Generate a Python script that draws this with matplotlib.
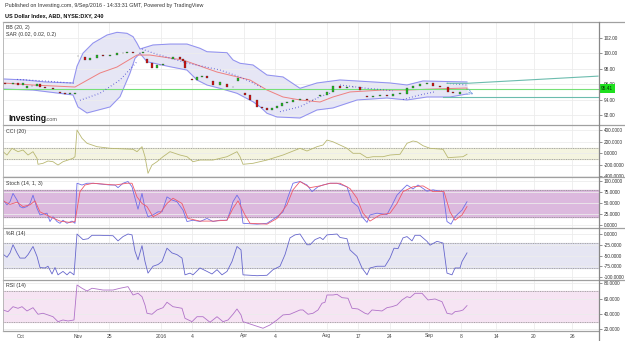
import numpy as np
import matplotlib.pyplot as plt
from matplotlib.lines import Line2D
from matplotlib.ticker import FormatStrFormatter

plt.rcParams['font.family'] = ['Liberation Sans', 'DejaVu Sans']

# ---- data (x = bar position on the compressed 4h time axis) ----
tick_pos = [21, 78, 109, 161, 192, 244, 275, 327, 358, 390, 429, 461, 496, 534, 572]
tick_labels = ['Oct', 'Nov', '25', '2016', '4', 'Apr', '4', 'Aug', '17', '24', 'Sep', '8', '14', '20', '26']

candle_x = [5, 13, 18, 23, 27, 32, 37, 40, 45, 53, 60, 65, 70, 75,
            78, 85, 90, 97, 103, 110, 117, 123, 127, 133, 140, 143, 147, 152, 157, 160, 163,
            173, 180, 183, 185, 192, 197, 202, 207, 213, 220, 227, 233, 238,
            245, 250, 257, 262, 267, 272, 277, 282, 287, 293, 300, 307, 313,
            320, 327, 333, 340, 347, 353, 360, 367, 373, 380, 387, 393, 400,
            407, 413, 420, 427, 433, 440, 448, 453, 460, 467]
candle_open = [96.10, 96.01, 96.18, 95.88, 95.45, 95.70, 95.75, 96.01, 95.66, 95.45, 95.00, 94.81, 94.72, 94.72,
               99.60, 99.50, 99.12, 99.40, 99.76, 99.63, 99.76, 99.98, 100.06, 100.19, 99.98, 100.06, 99.30, 98.69, 98.04, 98.47, 98.47,
               99.30, 99.46, 99.21, 98.99, 96.70, 96.53, 96.95, 97.05, 96.40, 95.88, 96.00, 95.58, 96.40,
               94.80, 94.59, 93.94, 93.07, 92.87, 92.65, 92.87, 93.16, 93.51, 93.72, 93.94, 94.03, 93.94,
               94.40, 94.59, 95.01, 95.75, 95.45, 95.58, 95.66, 94.50, 94.37, 94.46, 94.59, 94.50, 94.72,
               94.70, 95.45, 95.75, 96.01, 96.10, 95.75, 95.58, 94.99, 94.70, 95.30]
candle_close = [96.01, 96.18, 95.88, 96.10, 95.70, 95.75, 96.01, 95.66, 95.45, 95.32, 94.81, 94.72, 94.72, 94.81,
                99.67, 99.12, 99.34, 99.76, 99.63, 99.76, 99.98, 100.06, 100.19, 99.98, 100.06, 100.19, 98.69, 98.04, 98.47, 98.47, 98.60,
                99.46, 99.21, 98.99, 98.04, 96.53, 96.95, 97.05, 96.75, 95.88, 96.31, 95.58, 95.58, 96.75,
                94.59, 93.94, 93.07, 92.87, 92.65, 92.87, 93.16, 93.51, 93.72, 93.94, 94.03, 93.94, 93.94,
                94.59, 95.01, 95.75, 95.45, 95.58, 95.66, 95.23, 94.37, 94.46, 94.59, 94.50, 94.72, 94.81,
                95.45, 95.75, 96.01, 96.10, 95.75, 95.58, 94.99, 94.88, 94.99, 95.41]
last_price = 95.41

bb_up_x = [3, 25, 45, 73, 77, 83, 93, 107, 117, 127, 133, 137, 140, 153, 170, 187, 200, 207, 227, 233,
           240, 253, 267, 283, 300, 317, 340, 390, 407, 423, 467]
bb_up = [96.66, 96.53, 96.27, 96.14, 98.30, 100.00, 101.30, 102.35, 102.70, 102.57, 102.14, 101.28, 100.54,
         101.06, 101.18, 101.18, 100.63, 100.19, 100.06, 99.12, 98.69, 98.47, 97.17, 96.92, 95.45, 96.14,
         96.53, 96.14, 95.88, 96.40, 96.27]
bb_lo_x = [3, 33, 73, 78, 87, 110, 120, 130, 135, 140, 147, 170, 187, 197, 207, 220, 237, 253, 260, 267,
           277, 300, 317, 333, 357, 387, 407, 427, 450, 467]
bb_lo = [95.36, 95.23, 94.59, 93.04, 92.26, 93.04, 94.37, 97.43, 99.34, 99.98, 98.90, 98.25, 97.82, 96.53,
         95.88, 95.45, 94.81, 93.72, 93.07, 92.22, 91.74, 91.61, 92.65, 92.91, 93.94, 94.20, 93.94, 94.33,
         94.33, 94.72]
bb_mid_x = [3, 33, 75, 100, 117, 137, 150, 183, 217, 250, 267, 283, 300, 320, 333, 350, 383, 407, 433, 467]
bb_mid = [96.14, 95.88, 95.62, 97.43, 98.21, 99.76, 99.76, 99.12, 97.56, 96.53, 95.23, 94.33, 93.94, 93.68,
          94.33, 94.98, 95.23, 95.23, 95.36, 95.49]

sar_segments = [
    ([17, 45, 75], [96.60, 96.40, 96.10]),
    ([80, 100, 120, 137], [93.90, 94.81, 96.53, 98.90]),
    ([142, 153, 170, 187, 220, 240, 253, 263], [100.54, 100.02, 99.37, 98.73, 97.82, 96.92, 96.14, 95.49]),
    ([280, 300, 320, 330], [92.43, 93.07, 94.37, 94.81]),
    ([340, 367, 393], [95.88, 95.45, 95.14]),
    ([403, 420, 435], [94.00, 94.60, 95.00]),
    ([447, 467], [96.10, 95.88]),
]
proj_up_x = [447, 467, 598]
proj_up = [96.10, 96.10, 97.03]
proj_lo_x = [443, 598]
proj_lo = [94.33, 94.33]

cci_x = [3, 7, 12, 18, 23, 28, 33, 37, 38, 43, 48, 53, 58, 63, 68, 73, 75, 77, 82, 87, 97, 110, 133, 137,
         142, 145, 148, 152, 157, 163, 170, 180, 187, 193, 200, 213, 227, 237, 240, 243, 253, 267, 283,
         300, 307, 317, 323, 327, 333, 340, 347, 353, 360, 367, 373, 383, 390, 400, 407, 413, 417, 423,
         430, 443, 448, 453, 463, 467]
cci = [28, -30, 87, 28, 57, -30, 28, -87, -191, -174, -134, -146, -204, -146, -117, -87, -59, 405, 261, 174,
       115, 87, 70, 28, 115, -59, -348, -204, -146, -59, 28, -30, -59, -146, -117, -117, -59, 28, -59, -191,
       -174, -117, -30, 87, 40, 115, 144, 230, 200, 144, 87, 0, 0, -77, -59, -59, -30, -17, 174, 214, 200,
       132, 87, 70, -77, -70, -59, -17]

stoch_k_x = [3, 7, 10, 13, 17, 20, 23, 27, 30, 33, 37, 40, 47, 50, 53, 57, 60, 63, 67, 72, 75, 77, 82, 87,
             93, 110, 115, 118, 123, 128, 132, 135, 138, 142, 145, 148, 153, 158, 162, 167, 172, 177, 183,
             187, 193, 200, 207, 213, 220, 227, 230, 233, 237, 240, 243, 257, 267, 277, 283, 288, 293,
             300, 307, 312, 318, 323, 330, 337, 347, 352, 358, 362, 367, 370, 377, 387, 392, 397, 402,
             407, 413, 418, 427, 433, 440, 443, 447, 451, 455, 462, 467]
stoch_k = [58, 47, 54, 73, 58, 43, 40, 43, 50, 69, 39, 24, 28, 9, 20, 9, 5, 12, 5, 10, 5, 96, 92, 96,
           96, 92, 92, 86, 96, 100, 88, 62, 37, 73, 39, 20, 24, 31, 31, 65, 58, 54, 35,
           9, 12, 9, 16, 9, 12, 12, 31, 54, 69, 58, 5, 3, 5, 20, 31, 65, 96,
           100, 92, 77, 88, 92, 96, 96, 88, 54, 43, 20, 7, 24, 28, 25, 46, 69, 81,
           92, 83, 92, 78, 81, 78, 77, 9, 3, 20, 35, 54]
stoch_d_x = [3, 10, 17, 23, 30, 35, 40, 50, 60, 70, 75, 80, 85, 93, 115, 127, 132, 137, 142, 147, 153,
             160, 167, 173, 182, 188, 200, 213, 227, 233, 238, 245, 250, 267, 277, 287, 293,
             300, 310, 320, 330, 340, 350, 357, 363, 370, 380, 390, 397, 403, 413, 423, 433, 444,
             450, 455, 462, 467]
stoch_d = [56, 48, 53, 43, 47, 56, 31, 20, 10, 7, 9, 77, 92, 96, 92, 96, 96, 65, 50, 43, 20,
           28, 50, 62, 50, 16, 10, 10, 12, 39, 56, 24, 5, 3, 16, 47, 81,
           100, 86, 90, 96, 96, 84, 62, 28, 10, 24, 28, 50, 77, 88, 90, 77, 77,
           31, 12, 24, 43]

wr_x = [3, 7, 10, 13, 17, 20, 25, 28, 33, 37, 40, 45, 48, 52, 55, 58, 63, 67, 70, 74, 77, 83, 88, 92,
        100, 113, 118, 123, 128, 132, 135, 138, 142, 145, 148, 153, 158, 162, 167, 172, 177, 182, 185,
        190, 193, 200, 207, 212, 217, 222, 227, 232, 237, 241, 243, 257, 267, 273, 280, 285, 290, 295,
        300, 307, 310, 315, 320, 323, 327, 337, 340, 347, 350, 357, 362, 367, 370, 377, 385, 390, 394,
        398, 403, 407, 412, 415, 420, 427, 430, 437, 443, 447, 452, 455, 460, 462, 467]
wr = [-47, -54, -44, -25, -44, -56, -56, -48, -29, -52, -78, -79, -75, -93, -78, -95, -87, -95, -88, -95,
      0, -13, -11, -3, -3, -4, -16, -6, 0, -2, -40, -60, -27, -64, -91, -75, -71, -64, -33, -44, -48,
      -56, -95, -91, -95, -79, -87, -93, -83, -95, -87, -64, -29, -37, -95, -97, -96, -83, -75, -48,
      -9, -2, 0, -25, -25, -13, -8, -13, -2, 0, -8, -11, -37, -52, -79, -95, -79, -75, -75, -56, -33,
      -34, -9, -6, -16, -3, -3, -17, -26, -17, -21, -91, -95, -79, -79, -64, -44]

rsi_x = [3, 8, 13, 18, 22, 27, 33, 38, 43, 48, 53, 58, 63, 68, 74, 77, 82, 87, 92, 97, 103, 113, 120,
         128, 133, 138, 142, 145, 147, 152, 157, 163, 167, 173, 182, 185, 192, 197, 203, 210, 217,
         223, 228, 233, 237, 241, 243, 253, 263, 270, 277, 283, 290, 300, 303, 308, 313, 318, 322,
         325, 327, 333, 337, 342, 348, 352, 358, 365, 368, 372, 382, 387, 392, 397, 402, 407, 410,
         415, 422, 428, 435, 442, 447, 452, 455, 460, 463, 467]
rsi = [45.1, 42.9, 49.4, 47.3, 49.4, 43.8, 48.1, 39.5, 40.8, 38.6, 36.3, 29.8, 32.0, 30.7, 32.0, 77.8,
       73.5, 69.9, 73.5, 72.5, 71.2, 71.2, 73.5, 75.6, 64.7, 66.9, 62.5, 51.6, 40.8, 39.5, 45.1, 48.1,
       55.2, 49.4, 47.3, 34.2, 29.8, 36.3, 36.3, 29.0, 36.3, 29.8, 32.0, 39.5, 46.4, 38.6, 29.8, 25.5,
       21.2, 25.5, 32.0, 38.6, 39.5, 45.1, 45.1, 39.5, 40.8, 45.1, 53.9, 55.2, 64.7, 64.7, 65.6, 61.2,
       60.4, 47.3, 46.4, 40.8, 39.5, 45.1, 43.8, 48.1, 49.4, 51.6, 58.2, 62.5, 61.2, 66.9, 66.9, 58.2,
       59.5, 55.9, 40.8, 39.5, 42.9, 43.8, 45.1, 50.8]

# ---- layout ----
W, H = 625, 341
fig = plt.figure(figsize=(6.25, 3.41), dpi=100)
fig.patch.set_facecolor('white')
x_left, x_right = 3, 599
panels = [(22, 125), (125, 177), (177, 228), (228, 280), (280, 331)]
axes = []
for top, bot in panels:
    ax = fig.add_axes([x_left / W, 1 - bot / H, (x_right - x_left) / W, (bot - top) / H])
    ax.set_xlim(x_left, x_right)
    for s in ax.spines.values():
        s.set_visible(False)
    ax.yaxis.tick_right()
    ax.tick_params(axis='y', length=2, width=0.5, labelsize=3.4, pad=1.5, colors='#666', labelcolor='#333')
    ax.tick_params(axis='x', length=0)
    ax.set_xticks(tick_pos)
    ax.set_xticklabels([])
    ax.yaxis.grid(True, color='#ececec', lw=0.6)
    for tp in tick_pos[1:]:
        ax.axvline(tp, color='#ececec', lw=0.6, zorder=0)
    axes.append(ax)
ax_p, ax_cci, ax_st, ax_wr, ax_rsi = axes

# ---- price panel ----
ax_p.set_ylim(90.7, 104.04)
ax_p.set_yticks([92, 94, 96, 98, 100, 102])
ax_p.yaxis.set_major_formatter(FormatStrFormatter('%.2f'))
poly_x = bb_up_x + bb_lo_x[::-1]
poly_y = bb_up + bb_lo[::-1]
ax_p.fill(poly_x, poly_y, color='#e6e6f5', zorder=1)
ax_p.plot(bb_up_x, bb_up, color='#8f8ff0', lw=0.7, zorder=2)
ax_p.plot(bb_lo_x, bb_lo, color='#8f8ff0', lw=0.7, zorder=2)
ax_p.plot(bb_mid_x, bb_mid, color='#ee8080', lw=0.7, zorder=2)
ax_p.axhline(last_price, color='#77e077', lw=0.8, zorder=2)
for sx, sy in sar_segments:
    ax_p.plot(sx, sy, color='#3a3ad0', lw=0.8, ls=(0, (0.6, 2.2)), zorder=3)
ax_p.plot(proj_up_x, proj_up, color='#6cbcae', lw=0.8, zorder=3)
ax_p.plot(proj_lo_x, proj_lo, color='#6cbcae', lw=0.8, zorder=3)
ax_p.annotate('', xy=(476, 94.55), xytext=(466, 95.1),
              arrowprops=dict(arrowstyle='->', color='#7a9ee0', lw=0.6, ls='--'))
for cx, o, c in zip(candle_x, candle_open, candle_close):
    col = '#22bb22' if c >= o else '#d01010'
    lo, hi = min(o, c), max(o, c)
    ax_p.bar(cx, max(hi - lo, 0.06), bottom=lo, width=2.4, color=col, edgecolor='#333', lw=0.2, zorder=4)
ax_p.annotate(f'{last_price:.2f}', xy=(1.003, last_price), xycoords=('axes fraction', 'data'),
              fontsize=3.4, color='#0a2a0a', va='center', ha='left',
              bbox=dict(boxstyle='square,pad=0.35', fc='#1ee01e', ec='none'), annotation_clip=False)

# ---- CCI ----
ax_cci.set_ylim(-412, 492)
ax_cci.set_yticks([400, 200, 0, -200, -400])
ax_cci.yaxis.set_major_formatter(FormatStrFormatter('%.4f'))
ax_cci.axhspan(-100, 100, color='#f4f4e0', zorder=0.5)
for lv in (100, -100):
    ax_cci.axhline(lv, color='#888', lw=0.5, ls=(0, (1.5, 1)))
ax_cci.plot(cci_x, cci, color='#b9b872', lw=0.6)

# ---- Stoch ----
ax_st.set_ylim(-5.7, 110.2)
ax_st.set_yticks([100, 75, 50, 25, 0])
ax_st.yaxis.set_major_formatter(FormatStrFormatter('%.4f'))
ax_st.axhspan(20, 80, color='#dcb9de', zorder=0.5)
for lv in (20, 80):
    ax_st.axhline(lv, color='#888', lw=0.5, ls=(0, (1.5, 1)))
ax_st.plot(stoch_k_x, stoch_k, color='#6e6ee8', lw=0.6)
ax_st.plot(stoch_d_x, stoch_d, color='#ef5a6a', lw=0.6)

# ---- %R ----
ax_wr.set_ylim(-107, 14)
ax_wr.set_yticks([0, -25, -50, -75, -100])
ax_wr.yaxis.set_major_formatter(FormatStrFormatter('%.4f'))
ax_wr.axhspan(-80, -20, color='#e6e6f3', zorder=0.5)
for lv in (-20, -80):
    ax_wr.axhline(lv, color='#888', lw=0.5, ls=(0, (1.5, 1)))
ax_wr.plot(wr_x, wr, color='#6666cc', lw=0.6)

# ---- RSI ----
ax_rsi.set_ylim(17.6, 84.3)
ax_rsi.set_yticks([80, 60, 40, 20])
ax_rsi.yaxis.set_major_formatter(FormatStrFormatter('%.4f'))
ax_rsi.axhspan(30, 70, color='#f6e4f3', zorder=0.5)
for lv in (30, 70):
    ax_rsi.axhline(lv, color='#888', lw=0.5, ls=(0, (1.5, 1)))
ax_rsi.plot(rsi_x, rsi, color='#b072c8', lw=0.6)
ax_rsi.set_xticklabels(tick_labels, fontsize=3.6, color='#444')
ax_rsi.tick_params(axis='x', pad=1.8)

# ---- frame lines ----
def hline(y, x0=x_left, x1=W):
    fig.add_artist(Line2D([x0 / W, x1 / W], [1 - y / H, 1 - y / H], color='#a0a0a0', lw=0.9))

for top, bot in panels:
    hline(top)
hline(331, x_left, x_right)
fig.add_artist(Line2D([x_right / W] * 2, [1 - 22 / H, 1 - 341 / H], color='#888', lw=0.9))
fig.add_artist(Line2D([x_left / W] * 2, [1 - 22 / H, 1 - 331 / H], color='#b0b0b0', lw=0.6))

# ---- texts ----
def ftext(x, y, s, **kw):
    fig.text(x / W, 1 - y / H, s, va='center', ha='left', **kw)

ftext(5, 5.5, 'Published on Investing.com, 9/Sep/2016 - 14:33:31 GMT, Powered by TradingView', fontsize=3.9, color='#333')
ftext(5, 15.5, 'US Dollar Index, ABD, NYSE:DXY, 240', fontsize=4.0, color='#111', fontweight='bold')
ftext(6, 27.5, 'BB (20, 2)', fontsize=3.8, color='#333')
ftext(6, 34.5, 'SAR (0.02, 0.02, 0.2)', fontsize=3.8, color='#333')
ftext(6, 131, 'CCI (20)', fontsize=3.8, color='#333')
ftext(6, 183, 'Stoch (14, 1, 3)', fontsize=3.8, color='#333')
ftext(6, 234, '%R (14)', fontsize=3.8, color='#333')
ftext(6, 286, 'RSI (14)', fontsize=3.8, color='#333')
ftext(8, 118.5, 'Investing', fontsize=6.2, color='#111', fontweight='bold')
ftext(46, 119.5, '.com', fontsize=4.0, color='#555')

fig.savefig('out.png', dpi=100, facecolor='white')
